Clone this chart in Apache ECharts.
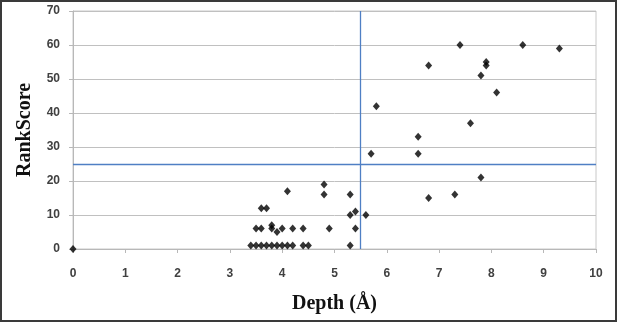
<!DOCTYPE html>
<html>
<head>
<meta charset="utf-8">
<script src="https://cdn.jsdelivr.net/npm/echarts@6/dist/echarts.min.js"></script>
<style>
    html, body { margin: 0; padding: 0; background: #fff; }
    #frame { width: 617px; height: 322px; box-sizing: border-box; border: 2px solid #3a3a3a; position: relative; }
    #chart { position: absolute; left: -2px; top: -2px; width: 617px; height: 322px; }
</style>
</head>
<body>
<div id="frame"><div id="chart"></div></div>
<script>
// depth (Å) vs rank score
var depth = [0,
    3.4, 3.5, 3.6, 3.7, 3.8, 3.9, 4.0, 4.1, 4.2, 4.4, 4.5, 5.3,
    3.5, 3.6, 3.8, 3.8, 3.9, 4.0, 4.2, 4.4, 4.9, 5.4,
    3.6, 3.7, 4.1, 4.8, 4.8, 5.3, 5.3, 5.4, 5.6,
    5.7, 5.8, 6.6, 6.6, 6.8, 6.8, 7.3, 7.4, 7.6, 7.8, 7.8, 7.9, 7.9, 8.1, 8.6, 9.3];
var rankScore = [0,
    1, 1, 1, 1, 1, 1, 1, 1, 1, 1, 1, 1,
    6, 6, 7, 6, 5, 6, 6, 6, 6, 6,
    12, 12, 17, 19, 16, 16, 10, 11, 10,
    28, 42, 33, 28, 54, 15, 16, 60, 37, 51, 21, 55, 54, 46, 60, 59];
var depthCut = 5.5;
var scoreCut = 25;
var xTicks = [0, 10, 1];   // min, max, step
var yTicks = [0, 70, 10];

var points = [];
for (var i = 0; i < depth.length; i++) {
    points.push([depth[i], rankScore[i]]);
}

var chart = echarts.init(document.getElementById('chart'));
var labelStyle = {color: '#404040', fontWeight: 'bold', fontSize: 12, fontFamily: 'Liberation Sans'};
var titleStyle = {fontFamily: 'Liberation Serif', fontWeight: 'bold', fontSize: 20, color: '#111'};

var option = {
    animation: false,
    grid: {
        left: 73, right: 21, top: 11, bottom: 73,
        show: true, borderColor: '#c8c8c8', borderWidth: 1
    },
    xAxis: {
        type: 'value',
        min: xTicks[0], max: xTicks[1], interval: xTicks[2],
        name: 'Depth (Å)',
        nameLocation: 'middle',
        nameGap: 45,
        nameTextStyle: titleStyle,
        axisLine: {show: true, onZero: false, lineStyle: {color: '#b8b8b8'}},
        axisTick: {show: true, length: 4, lineStyle: {color: '#b8b8b8'}},
        axisLabel: Object.assign({margin: 19}, labelStyle),
        splitLine: {show: false}
    },
    yAxis: {
        type: 'value',
        min: yTicks[0], max: yTicks[1], interval: yTicks[2],
        name: 'RankScore',
        nameLocation: 'middle',
        nameGap: 38,
        nameTextStyle: titleStyle,
        axisLine: {show: true, lineStyle: {color: '#b8b8b8'}},
        axisTick: {show: true, length: 4, inside: false, lineStyle: {color: '#b8b8b8'}},
        axisLabel: Object.assign({margin: 13}, labelStyle),
        splitLine: {show: true, lineStyle: {color: '#c0c0c0', width: 1}}
    },
    series: [
        {
            type: 'scatter',
            symbol: 'diamond',
            symbolSize: [7, 8],
            itemStyle: {color: '#000'},
            data: points,
            z: 3,
            markLine: {
                silent: true,
                symbol: ['none', 'none'],
                label: {show: false},
                lineStyle: {color: '#4f7fc4', width: 1.3, type: 'solid'},
                data: [{xAxis: depthCut}, {yAxis: scoreCut}]
            }
        }
    ]
};
chart.setOption(option);
</script>
</body>
</html>
